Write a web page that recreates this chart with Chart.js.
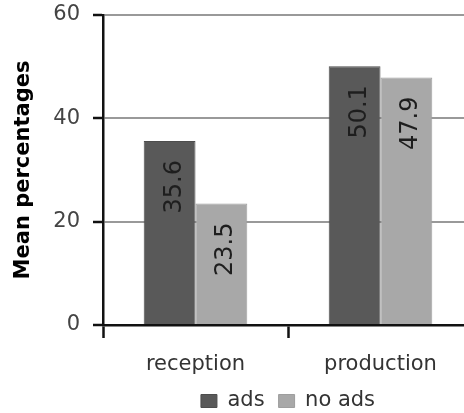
<!DOCTYPE html>
<html>
<head>
<meta charset="utf-8">
<script src="https://cdn.jsdelivr.net/npm/chart.js@4/dist/chart.umd.min.js"></script>
<style>
  html, body { margin: 0; padding: 0; background: #fff; overflow: hidden; }
  canvas { display: block; }
</style>
</head>
<body>
<canvas id="chart" width="473" height="413"></canvas>
<script>
const categories = ['reception', 'production']
const seriesNames = ['ads', 'no ads']
const adsValues = [35.6, 50.1]
const noAdsValues = [23.5, 47.9]
const yTicks = [0, 20, 40, 60]

const FONT = 'DejaVu Sans'

// value labels, rotated, just under the top of each bar
const barLabels = {
    id: 'barLabels',
    afterDatasetsDraw(chart) {
        const ctx = chart.ctx
        chart.data.datasets.forEach((ds, i) => {
            const meta = chart.getDatasetMeta(i)
            meta.data.forEach((bar, j) => {
                ctx.save()
                ctx.translate(bar.x + 11, bar.y + 19)
                ctx.rotate(-Math.PI / 2)
                ctx.font = '24px ' + FONT
                ctx.fillStyle = '#1e1e1e'
                ctx.textAlign = 'right'
                ctx.textBaseline = 'alphabetic'
                ctx.fillText(ds.data[j].toFixed(1), 0, 0)
                ctx.restore()
            })
        })
    }
}

new Chart(document.getElementById('chart'), {
    type: 'bar',
    data: {
        labels: categories,
        datasets: [
            {
                label: seriesNames[0],
                data: adsValues,
                backgroundColor: '#595959',
                borderColor: '#4d4d4d',
                borderWidth: 1,
                categoryPercentage: 0.56,
                barPercentage: 1.0
            },
            {
                label: seriesNames[1],
                data: noAdsValues,
                backgroundColor: '#a8a8a8',
                borderColor: '#9e9e9e',
                borderWidth: 1,
                categoryPercentage: 0.56,
                barPercentage: 1.0
            }
        ]
    },
    options: {
        responsive: false,
        animation: false,
        devicePixelRatio: 1,
        layout: { padding: { top: 15, left: 0, right: 0, bottom: 0 } },
        plugins: {
            tooltip: { enabled: false },
            legend: {
                position: 'bottom',
                fullSize: false,
                maxHeight: 36.5,
                labels: {
                    boxWidth: 16,
                    boxHeight: 13,
                    padding: 14,
                    color: '#333',
                    font: { family: FONT, size: 21 }
                }
            }
        },
        scales: {
            x: {
                afterFit: (scale) => { scale.height = 51.5 },
                grid: {
                    drawOnChartArea: false,
                    drawTicks: true,
                    tickLength: 13,
                    tickColor: '#111',
                    tickWidth: 2.5,
                    offset: true
                },
                border: { color: '#111', width: 2.5 },
                ticks: {
                    color: '#333',
                    padding: 14,
                    font: { family: FONT, size: 21 }
                }
            },
            y: {
                min: 0,
                max: 60,
                afterFit: (scale) => {
                    scale.width = 103
                    scale.paddingTop = 0
                    scale.paddingBottom = 0
                },
                afterBuildTicks: (scale) => { scale.ticks = yTicks.map(v => ({ value: v })) },
                grid: {
                    color: '#999',
                    lineWidth: 2,
                    drawTicks: true,
                    tickLength: 10,
                    tickColor: '#111',
                    tickWidth: 2.5
                },
                border: { color: '#111', width: 2.5 },
                ticks: {
                    color: '#444',
                    padding: 13,
                    font: { family: FONT, size: 21 }
                },
                title: {
                    display: true,
                    text: 'Mean percentages',
                    color: '#000',
                    padding: { top: 11, bottom: 0 },
                    font: { family: FONT, size: 21, weight: 'bold' }
                }
            }
        }
    },
    plugins: [barLabels]
})
</script>
</body>
</html>
